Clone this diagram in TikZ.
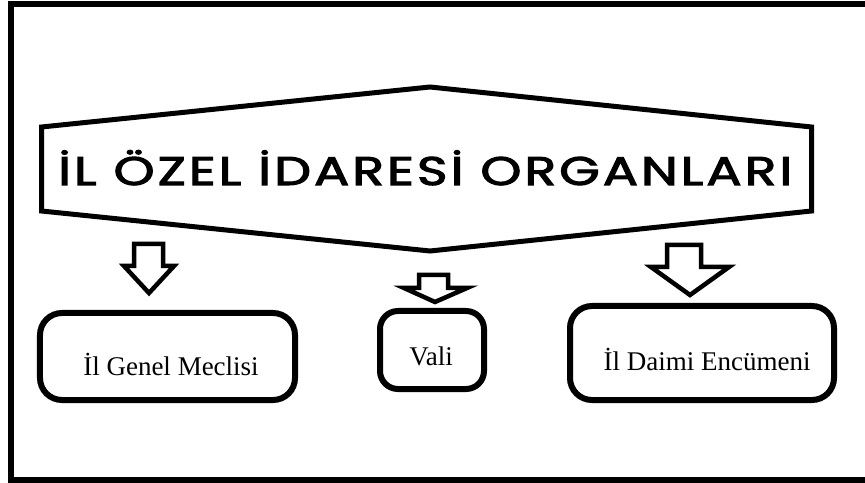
\documentclass[tikz,border=0pt]{standalone}
\usepackage{fontspec}
\setmainfont{Liberation Serif}
\newfontfamily\titlefont{Poppins}[LetterSpace=6,FakeBold=2.5]
\begin{document}
\begin{tikzpicture}[x=1bp,y=-1bp,
  frameline/.style={line width=6bp},
  hexline/.style={line width=5bp, line join=miter},
  organbox/.style={draw, line width=6bp, rounded corners=22bp, inner sep=0pt},
  organtext/.style={inner sep=0pt, anchor=base, font=\fontsize{27bp}{31bp}\selectfont},
  blockarrow/.style={draw, line width=4.5bp, line join=miter, fill=white}]
\useasboundingbox (0,0) rectangle (865,483);
\clip (0,0) rectangle (865,483);
% outer frame (open to the right)
\draw[frameline] (875,4.5) -- (11,4.5) -- (11,479.5) -- (875,479.5);
% title hexagon
\coordinate (hl1) at (41.5,127);
\coordinate (htop) at (430,87);
\coordinate (hr1) at (811.5,127);
\coordinate (hr2) at (811.5,211);
\coordinate (hbot) at (430,251);
\coordinate (hl2) at (41.5,211);
\draw[hexline] (hl1) -- (htop) -- (hr1) -- (hr2) -- (hbot) -- (hl2) -- cycle;
\node[inner sep=0pt, anchor=base west] (title) at (58,185)
  {\resizebox{734bp}{\height}{\titlefont\fontsize{40bp}{44bp}\selectfont İL ÖZEL İDARESİ ORGANLARI}};
% boxes
\node[organbox, minimum width=255bp, minimum height=87bp] (b1) at (167.5,356.5) {};
\node[organbox, minimum width=104bp, minimum height=78bp, rounded corners=18bp] (b2) at (432,350) {};
\node[organbox, minimum width=264bp, minimum height=94bp] (b3) at (702,353) {};
\node[organtext] (t1) at (171,375) {İl Genel Meclisi};
\node[organtext] (t2) at (431,365) {Vali};
\node[organtext] (t3) at (707,370) {İl Daimi Encümeni};
% block arrows
\draw[blockarrow] (134,244) -- (163,244) -- (163,266) -- (174,266) -- (149,293)
  -- (124,266) -- (134,266) -- cycle;
\draw[blockarrow] (419,275) -- (448,275) -- (448,288) -- (467,288) -- (435,302)
  -- (404,288) -- (419,288) -- cycle;
\draw[blockarrow] (667,245) -- (701,245) -- (701,267) -- (729,267) -- (690,295)
  -- (651,267) -- (667,267) -- cycle;
\end{tikzpicture}
\end{document}
